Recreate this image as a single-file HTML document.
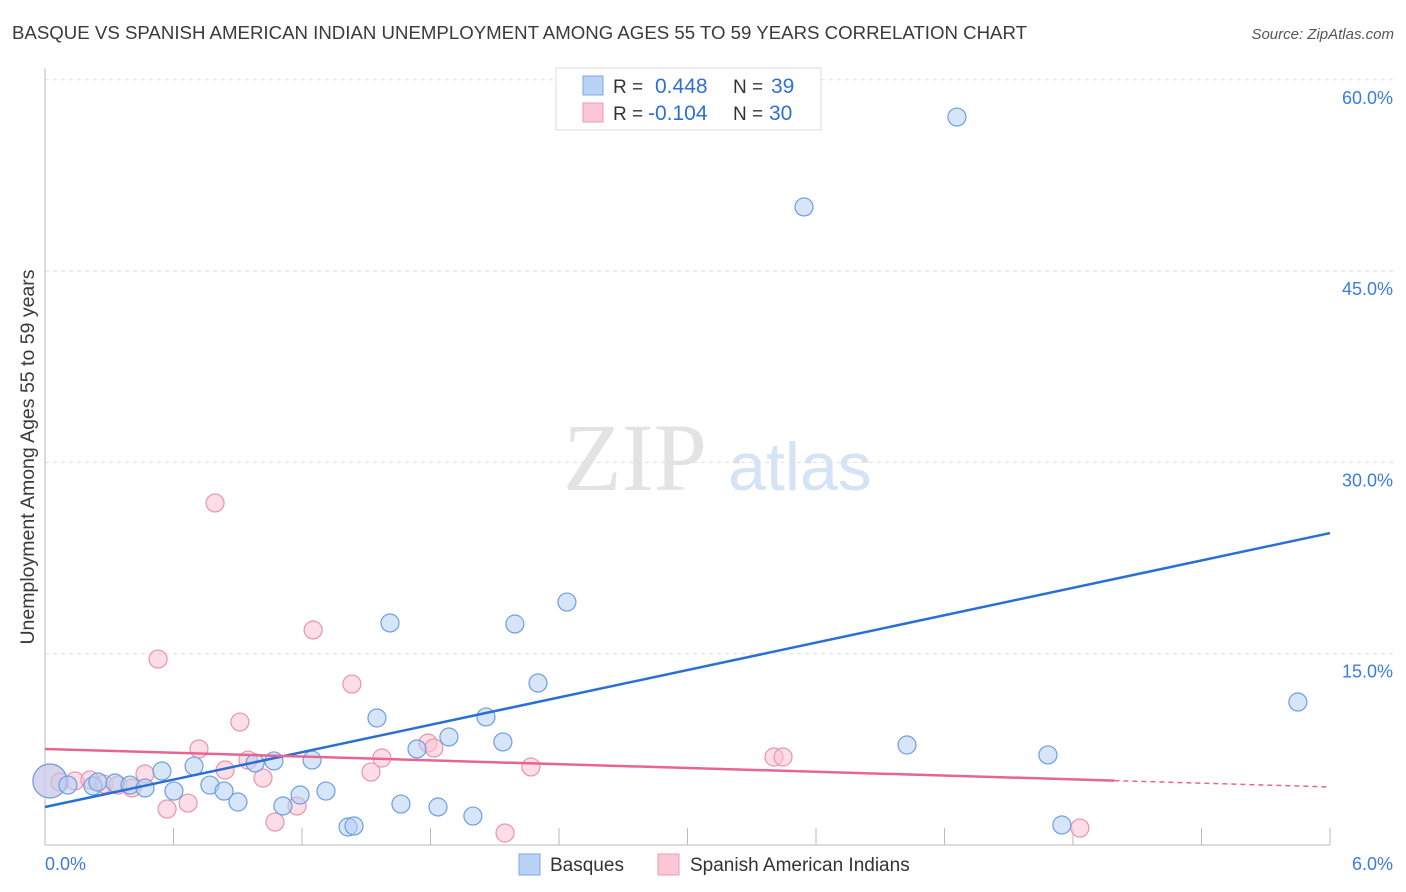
<!DOCTYPE html>
<html><head><meta charset="utf-8"><style>
body{margin:0;background:#fff;font-family:"Liberation Sans",sans-serif;}
svg{display:block}
</style></head><body>
<svg id="c" width="1406" height="892">
<text x="12" y="39" font-size="18" fill="#3a3a3a" textLength="1015" lengthAdjust="spacingAndGlyphs">BASQUE VS SPANISH AMERICAN INDIAN UNEMPLOYMENT AMONG AGES 55 TO 59 YEARS CORRELATION CHART</text>
<text x="1394" y="39" font-size="15" fill="#555" font-style="italic" text-anchor="end">Source: ZipAtlas.com</text>
<text x="635" y="490" font-size="96" fill="#e3e3e3" font-family="Liberation Serif,serif" text-anchor="middle">ZIP</text>
<text x="800" y="490" font-size="68" fill="#d5e3f5" text-anchor="middle">atlas</text>
<g id="grid"></g>
<g id="axes"></g>
<g id="marks"></g>
<text transform="translate(34,457) rotate(-90)" font-size="19.5" fill="#3a3a3a" text-anchor="middle">Unemployment Among Ages 55 to 59 years</text>
<g>
<rect x="556" y="68" width="265" height="62" fill="#fff" stroke="#ddd"/>
<rect x="583" y="76" width="20" height="19" fill="#b9d3f5" stroke="#7aa7e6"/>
<rect x="583" y="103" width="20" height="19" fill="#fcc6d5" stroke="#ee9ab2"/>
<text x="613" y="93" font-size="19" fill="#333">R = <tspan x="655" fill="#2f6fd6" font-size="21">0.448</tspan><tspan x="733" fill="#333">N = </tspan><tspan x="771" fill="#2f6fd6" font-size="21">39</tspan></text>
<text x="613" y="120" font-size="19" fill="#333">R = <tspan x="648" fill="#2f6fd6" font-size="21">-0.104</tspan><tspan x="733" fill="#333">N = </tspan><tspan x="769" fill="#2f6fd6" font-size="21">30</tspan></text>
</g>
<g>
<rect x="519" y="854" width="21" height="21" fill="#b9d3f5" stroke="#7aa7e6"/>
<text x="550" y="871" font-size="19" fill="#333">Basques</text>
<rect x="658" y="854" width="21" height="21" fill="#fcc6d5" stroke="#ee9ab2"/>
<text x="690" y="871" font-size="19" fill="#333">Spanish American Indians</text>
</g>
</svg>
<script>
const yTicks=[15,30,45,60];
const yTickLabels=["15.0%","30.0%","45.0%","60.0%"];
const xTickLabels=["0.0%","6.0%"];
const blueX=[0.023,0.107,0.224,0.247,0.327,0.397,0.467,0.546,0.602,0.696,0.770,0.836,0.901,0.981,1.069,1.111,1.191,1.247,1.312,1.415,1.443,1.550,1.611,1.662,1.737,1.835,1.886,1.998,2.059,2.138,2.194,2.302,2.437,3.544,4.025,4.258,4.683,4.748,5.850];
const blueY=[5.02,4.70,4.63,4.94,4.86,4.70,4.47,5.80,4.23,6.19,4.70,4.23,3.37,6.43,6.59,3.06,3.92,6.66,4.23,1.41,1.49,9.96,17.41,3.21,7.53,2.98,8.47,2.27,10.04,8.08,17.33,12.70,19.05,50.03,7.84,57.08,7.06,1.57,11.21];
const pinkX=[0.023,0.07,0.140,0.21,0.275,0.341,0.406,0.467,0.528,0.570,0.668,0.719,0.794,0.841,0.910,0.948,1.018,1.074,1.177,1.252,1.433,1.522,1.573,1.788,1.816,2.148,2.269,3.404,3.446,4.832];
const pinkY=[5.02,4.94,5.02,5.10,4.78,4.70,4.47,5.57,14.58,2.82,3.29,7.53,26.82,5.88,9.64,6.66,5.25,1.80,3.06,16.86,12.62,5.72,6.82,8.00,7.61,0.94,6.12,6.90,6.90,1.33];
const blueTrend=[2.98,24.46];
const pinkTrend=[7.53,4.55];
const pinkSolidEnd=5.05;
const X=v=>45+v/6*1285, Y=v=>845-v/15*191.3;
const NS="http://www.w3.org/2000/svg";
function mk(t,a,p){const e=document.createElementNS(NS,t);for(const k in a)e.setAttribute(k,a[k]);p.appendChild(e);return e;}
const grid=document.getElementById('grid'),axes=document.getElementById('axes'),marks=document.getElementById('marks');
yTicks.forEach((t,i)=>{
 const l=mk('line',{x1:45,x2:1394,y1:Y(t),y2:Y(t),stroke:'#ddd','stroke-dasharray':'4,4'},grid);
 
 
 const tx=mk('text',{x:1393,y:Y(t)+24,'font-size':18,fill:'#3d7be0','text-anchor':'end'},axes);
 tx.textContent=yTickLabels[i];
 
 
});
let a=mk('line',{x1:45,x2:45,y1:68,y2:845,stroke:'#bbb'},axes);


a=mk('line',{x1:45,x2:1330,y1:845,y2:845,stroke:'#bbb'},axes);


for(let i=1;i<=10;i++){const x=45+i*128.5;const t=mk('line',{x1:x,x2:x,y1:828,y2:845,stroke:'#bbb'},axes);
 
 }
[[0,'start',45],[6,'end',1393]].forEach((d,i)=>{const t=mk('text',{x:d[2],y:870,'font-size':18,fill:'#3d7be0','text-anchor':d[1]},axes);t.textContent=xTickLabels[i];
 
 });
function pts(xs,ys,fill,stroke,name){xs.forEach((x,i)=>{const r=i===0?17:9;
 const c=mk('circle',{cx:X(x),cy:Y(ys[i]),r:r,fill:fill,'fill-opacity':0.55,stroke:stroke,'stroke-width':1.2},marks);
 
 });}
pts(pinkX,pinkY,'#fbc3d3','#eb93ad','spanish-point');
pts(blueX,blueY,'#b5cff3','#6d9fe2','basque-point');
let l=mk('line',{x1:X(0),y1:Y(blueTrend[0]),x2:X(6),y2:Y(blueTrend[1]),stroke:'#2a6fd6','stroke-width':2.5},marks);


const py=x=>pinkTrend[0]+(pinkTrend[1]-pinkTrend[0])*x/6;
const xe=(pinkSolidEnd-pinkTrend[0])/(pinkTrend[1]-pinkTrend[0])*6;
l=mk('line',{x1:X(0),y1:Y(pinkTrend[0]),x2:X(xe),y2:Y(py(xe)),stroke:'#e8658f','stroke-width':2.5},marks);


l=mk('line',{x1:X(xe),y1:Y(py(xe)),x2:X(6),y2:Y(pinkTrend[1]),stroke:'#e8658f','stroke-width':1.5,'stroke-dasharray':'5,4'},marks);


</script>
</body></html>
